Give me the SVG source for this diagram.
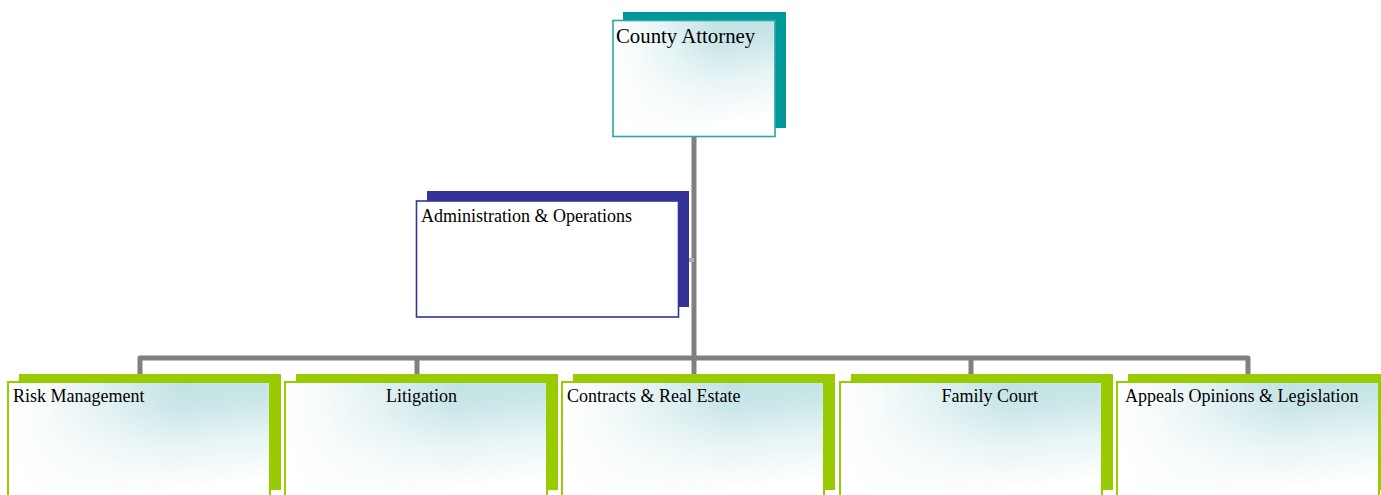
<svg xmlns="http://www.w3.org/2000/svg" width="1381" height="495" viewBox="0 0 1381 495">
<defs>
<linearGradient id="gv" x1="0" y1="0" x2="0.25" y2="1">
<stop offset="0" stop-color="#bcdfe2"/>
<stop offset="0.35" stop-color="#c9e6e8"/>
<stop offset="0.65" stop-color="#e8f4f5"/>
<stop offset="1" stop-color="#ffffff"/>
</linearGradient>
<linearGradient id="gh" x1="0" y1="0" x2="1" y2="0">
<stop offset="0" stop-color="#ffffff" stop-opacity="1"/>
<stop offset="0.12" stop-color="#ffffff" stop-opacity="0.9"/>
<stop offset="0.35" stop-color="#ffffff" stop-opacity="0.55"/>
<stop offset="0.65" stop-color="#ffffff" stop-opacity="0"/>
</linearGradient>
<style>
text{font-family:"Liberation Serif","Times New Roman",serif;fill:#000}
.t{font-size:18px}
.big{font-size:20.8px}
.conn{fill:none;stroke:#808080;stroke-width:5;stroke-linejoin:round;stroke-linecap:butt}
.sg{fill:#99cc00}
.fv{fill:url(#gv)}
.fh{fill:url(#gh)}
.bg{fill:none;stroke:#99cc00;stroke-width:2}
</style>
</defs>
<g id="connectors">
<path class="conn" d="M694 136 V358"/>
<path class="conn" d="M140 375 V358 H1248 V375"/>
<path class="conn" d="M417 358 V375 M694 358 V375 M971 358 V375"/>
<path class="conn" d="M694 260 H686" style="stroke:#b0b0b0;stroke-width:4"/>
</g>
<g id="county-attorney">
<rect x="623" y="12" width="163" height="116" fill="#009999"/>
<rect class="fv" x="613" y="20.5" width="162" height="116"/>
<rect class="fh" x="613" y="20.5" width="162" height="116"/>
<rect x="613" y="20.5" width="162" height="116" fill="none" stroke="#2aa6a6" stroke-width="1.6"/>
<text class="big" x="616" y="43">County Attorney</text>
</g>
<g id="admin-operations">
<rect x="427" y="191" width="262" height="116" fill="#333399"/>
<rect x="416.5" y="201" width="262" height="116" fill="#ffffff" stroke="#333399" stroke-width="1.6"/>
<text class="t" x="421" y="221.5">Administration &amp; Operations</text>
</g>
<g id="risk-management">
<rect class="sg" x="19" y="374" width="262" height="116"/>
<rect class="fv" x="8" y="382" width="262" height="120"/>
<rect class="fh" x="8" y="382" width="262" height="120"/>
<rect class="bg" x="8" y="382" width="262" height="120"/>
<text class="t" x="13" y="402">Risk Management</text>
</g>
<g id="litigation">
<rect class="sg" x="296" y="374" width="262" height="116"/>
<rect class="fv" x="285" y="382" width="262" height="120"/>
<rect class="fh" x="285" y="382" width="262" height="120"/>
<rect class="bg" x="285" y="382" width="262" height="120"/>
<text class="t" x="386" y="402">Litigation</text>
</g>
<g id="contracts-real-estate">
<rect class="sg" x="573" y="374" width="262" height="116"/>
<rect class="fv" x="562" y="382" width="262" height="120"/>
<rect class="fh" x="562" y="382" width="262" height="120"/>
<rect class="bg" x="562" y="382" width="262" height="120"/>
<text class="t" x="567" y="402">Contracts &amp; Real Estate</text>
</g>
<g id="family-court">
<rect class="sg" x="851" y="374" width="262" height="116"/>
<rect class="fv" x="840" y="382" width="262" height="120"/>
<rect class="fh" x="840" y="382" width="262" height="120"/>
<rect class="bg" x="840" y="382" width="262" height="120"/>
<text class="t" x="941.5" y="402">Family Court</text>
</g>
<g id="appeals-opinions-legislation">
<rect class="sg" x="1128" y="374" width="253" height="116"/>
<rect class="fv" x="1117" y="382" width="262" height="120"/>
<rect class="fh" x="1117" y="382" width="262" height="120"/>
<rect class="bg" x="1117" y="382" width="262" height="120"/>
<text class="t" x="1125" y="402">Appeals Opinions &amp; Legislation</text>
</g>
</svg>
